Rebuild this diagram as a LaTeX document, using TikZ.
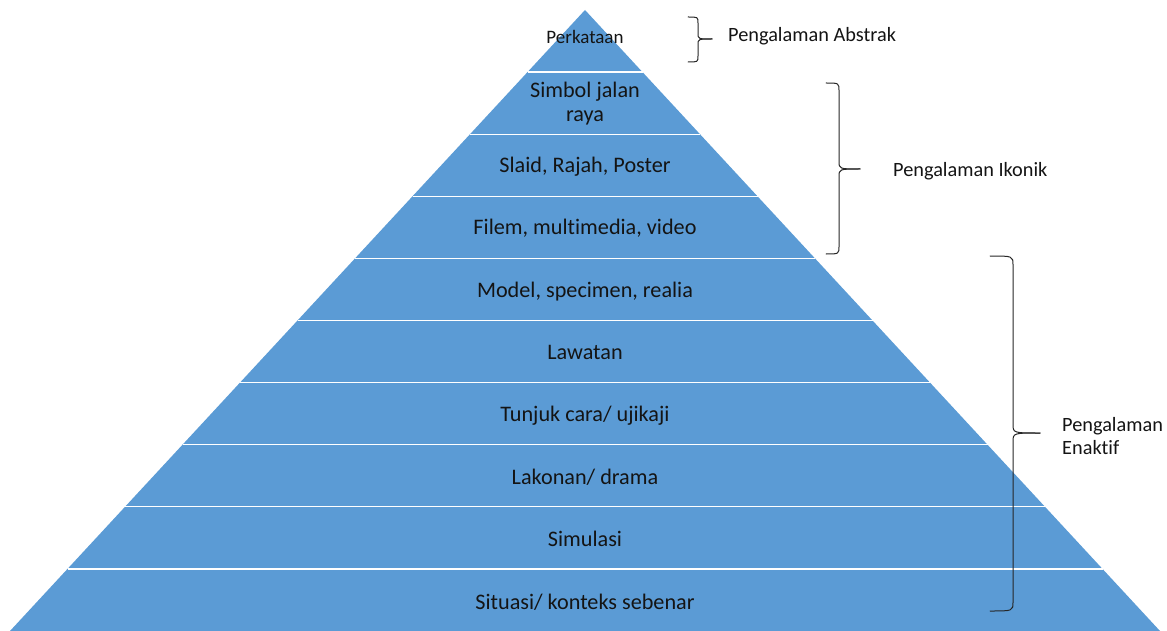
\documentclass[tikz,border=0pt]{standalone}
\usepackage{fontspec}
\setmainfont{Carlito}[Ligatures=NoCommon]
\definecolor{pyrblue}{HTML}{5B9BD5}
\definecolor{labeltext}{HTML}{141414}
\begin{document}
\begin{tikzpicture}[x=1pt,y=-1pt,
  tier/.style={inner sep=0pt,anchor=base,text=labeltext,font=\fontsize{22.2}{24}\selectfont},
  toptier/.style={inner sep=0pt,anchor=base,text=labeltext,font=\fontsize{19}{22}\selectfont},
  grouplabel/.style={inner sep=0pt,anchor=base west,text=labeltext,font=\fontsize{20.3}{23}\selectfont},
  bracket/.style={draw=black!85,line width=1pt,line cap=round}]
\useasboundingbox (0,0) rectangle (1167,631);

% pyramid body
\coordinate (apex) at (585,10);
\coordinate (baseL) at (10,631);
\coordinate (baseR) at (1160,631);
\fill[pyrblue] (baseL) -- (apex) -- (baseR) -- cycle;

% white separators between the ten tiers
\foreach \k in {1,...,9} {
  \pgfmathsetmacro{\yy}{10+62.1*\k}
  \pgfmathsetmacro{\dx}{(\yy-10)/621*575}
  \draw[white,line width=1.3pt] ({585-\dx},\yy) -- ({585+\dx},\yy);
}

% tier labels
\node[toptier] (t0) at (585,44) {Perkataan};
\node[tier] (t1a) at (585,98) {Simbol jalan};
\node[tier] (t1b) at (585,122) {raya};
\node[tier] (t2) at (585,173) {Slaid, Rajah, Poster};
\node[tier] (t3) at (585,235) {Filem, multimedia, video};
\node[tier] (t4) at (585,297) {Model, specimen, realia};
\node[tier] (t5) at (585,359) {Lawatan};
\node[tier] (t6) at (585,421) {Tunjuk cara/ ujikaji};
\node[tier] (t7) at (585,484) {Lakonan/ drama};
\node[tier] (t8) at (585,546) {Simulasi};
\node[tier] (t9) at (585,609) {Situasi/ konteks sebenar};

% right-hand curly brackets: hook x / spine x / tip x / top / middle / bottom / curve
\foreach \a/\v/\t/\top/\mid/\bot/\r in {688/698/712/17/39/62/6,
                                         826/839/860/83/169/254/8,
                                         990/1013/1040/256/433/611/9} {
  \draw[bracket] (\a,\top) .. controls (\v,\top) .. (\v,\top+\r)
    -- (\v,\mid-\r) .. controls (\v,\mid) .. (\t,\mid);
  \draw[bracket] (\a,\bot) .. controls (\v,\bot) .. (\v,\bot-\r)
    -- (\v,\mid+\r) .. controls (\v,\mid) .. (\t,\mid);
}

% group labels
\node[grouplabel] (gA) at (728,42) {Pengalaman Abstrak};
\node[grouplabel] (gI) at (893,177) {Pengalaman Ikonik};
\node[grouplabel] (gE1) at (1062,431) {Pengalaman};
\node[grouplabel] (gE2) at (1062,454) {Enaktif};
\end{tikzpicture}
\end{document}
